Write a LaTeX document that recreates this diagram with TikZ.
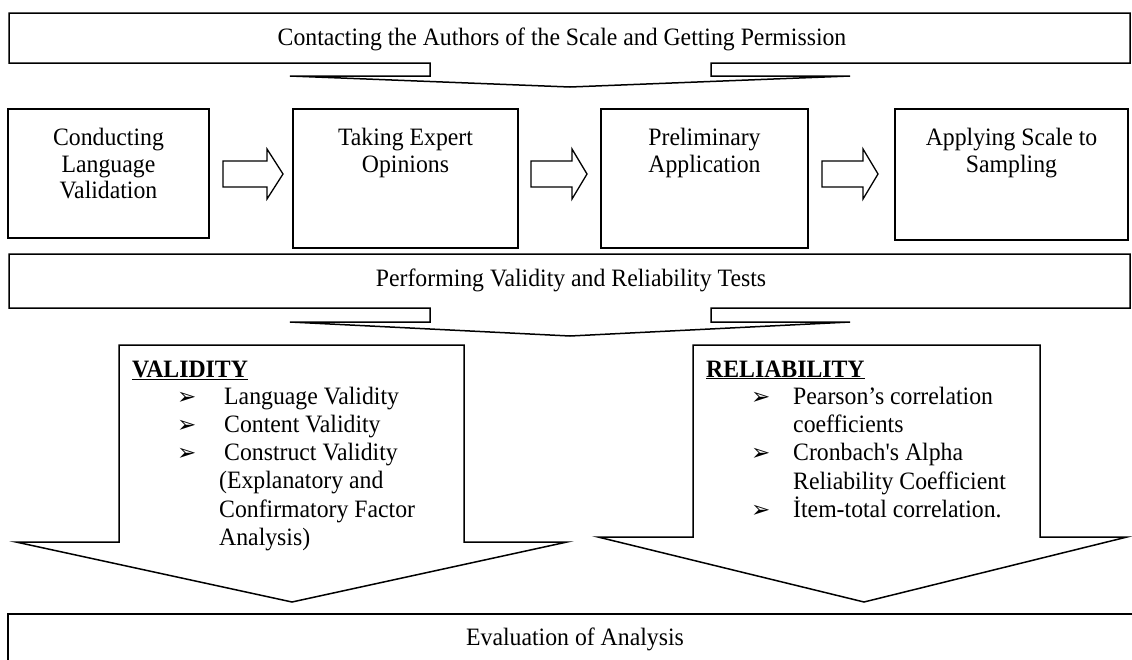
\documentclass[tikz,border=0pt]{standalone}
\usepackage{fontspec}
\setmainfont{Liberation Serif}[Ligatures=TeXOff, FakeStretch=0.95]
\newfontfamily\symfont{DejaVu Sans}
\begin{document}
\begin{tikzpicture}[x=1pt,y=-1pt,
  outline/.style={draw=black, line width=1.5pt, line join=miter, fill=white},
  boxshape/.style={draw=black, line width=1.5pt, fill=white},
  txt/.style={font=\fontsize{25}{26.5}\selectfont, inner sep=0pt, align=center},
  linetxt/.style={font=\fontsize{25}{28}\selectfont, inner sep=0pt, anchor=base west},
  bul/.style={font=\symfont\fontsize{23}{24}\selectfont, inner sep=0pt, anchor=base west},
  blockarrow/.style={draw=black, line width=1.3pt, line join=miter, fill=white}]
\useasboundingbox (0,0) rectangle (1132,659);
\clip (0,0) rectangle (1132,659);
\fill[white] (0,0) rectangle (1132,659);

% top callout
\draw[outline] (9,13) -- (1130,13) -- (1130,63) -- (711,63) -- (711,76) -- (850,76)
  -- (570,87) -- (290,76) -- (430,76) -- (430,63) -- (9,63) -- cycle;
\node[txt, anchor=base] (contact) at (562,45) {Contacting the Authors of the Scale and Getting Permission};

% row boxes
\draw[boxshape] (8,109) rectangle (209,238);
\draw[boxshape] (293,109) rectangle (518,248);
\draw[boxshape] (601,109) rectangle (808,248);
\draw[boxshape] (895,109) rectangle (1128,240);
\node[txt, anchor=north] (lang) at (108.5,128) {Conducting\\Language\\Validation};
\node[txt, anchor=north] (expert) at (405.5,128) {Taking Expert\\Opinions};
\node[txt, anchor=north] (prelim) at (704.5,128) {Preliminary\\Application};
\node[txt, anchor=north] (apply) at (1011.5,128) {Applying Scale to\\Sampling};

% block arrows
\draw[blockarrow] (223,161) -- (267,161) -- (267,149) -- (283,174) -- (267,199) -- (267,187) -- (223,187) -- cycle;
\draw[blockarrow] (531,161) -- (572,161) -- (572,149) -- (587,174) -- (572,199) -- (572,187) -- (531,187) -- cycle;
\draw[blockarrow] (822,161) -- (863,161) -- (863,149) -- (878,174) -- (863,199) -- (863,187) -- (822,187) -- cycle;

% performing callout
\draw[outline] (9,254) -- (1130,254) -- (1130,308) -- (711,308) -- (711,322) -- (850,322)
  -- (570,336) -- (290,322) -- (430,322) -- (430,308) -- (9,308) -- cycle;
\node[txt, anchor=base] (perform) at (571,286) {Performing Validity and Reliability Tests};

% validity arrow
\draw[outline] (119,345) -- (464,345) -- (464,542) -- (567,542) -- (292,602) -- (16,542) -- (119,542) -- cycle;
\node[linetxt] (vhead) at (132,377) {\underline{\textbf{VALIDITY}}};
\node[bul] (vb1) at (177,404) {➢};
\node[bul] (vb2) at (177,432) {➢};
\node[bul] (vb3) at (177,460) {➢};
\node[linetxt] (v1) at (224,404) {Language Validity};
\node[linetxt] (v2) at (224,432) {Content Validity};
\node[linetxt] (v3) at (224,460) {Construct Validity};
\node[linetxt] (v4) at (219,488) {(Explanatory and};
\node[linetxt] (v5) at (219,517) {Confirmatory Factor};
\node[linetxt] (v6) at (219,545) {Analysis)};

% reliability arrow
\draw[outline] (693,345) -- (1040,345) -- (1040,537) -- (1127,537) -- (864,602) -- (598,537) -- (693,537) -- cycle;
\node[linetxt] (rhead) at (706,377) {\underline{\textbf{RELIABILITY}}};
\node[bul] (rb1) at (751,404) {➢};
\node[bul] (rb2) at (751,460) {➢};
\node[bul] (rb3) at (751,517) {➢};
\node[linetxt] (r1) at (793,404) {Pearson’s correlation};
\node[linetxt] (r2) at (793,432) {coefficients};
\node[linetxt] (r3) at (793,460) {Cronbach's Alpha};
\node[linetxt] (r4) at (793,489) {Reliability Coefficient};
\node[linetxt] (r5) at (793,517) {İtem-total correlation.};

% evaluation box
\draw[line width=2.2pt] (1140,614) -- (8,614) -- (8,670);
\node[txt, anchor=base] (eval) at (575,645) {Evaluation of Analysis};
\end{tikzpicture}
\end{document}
